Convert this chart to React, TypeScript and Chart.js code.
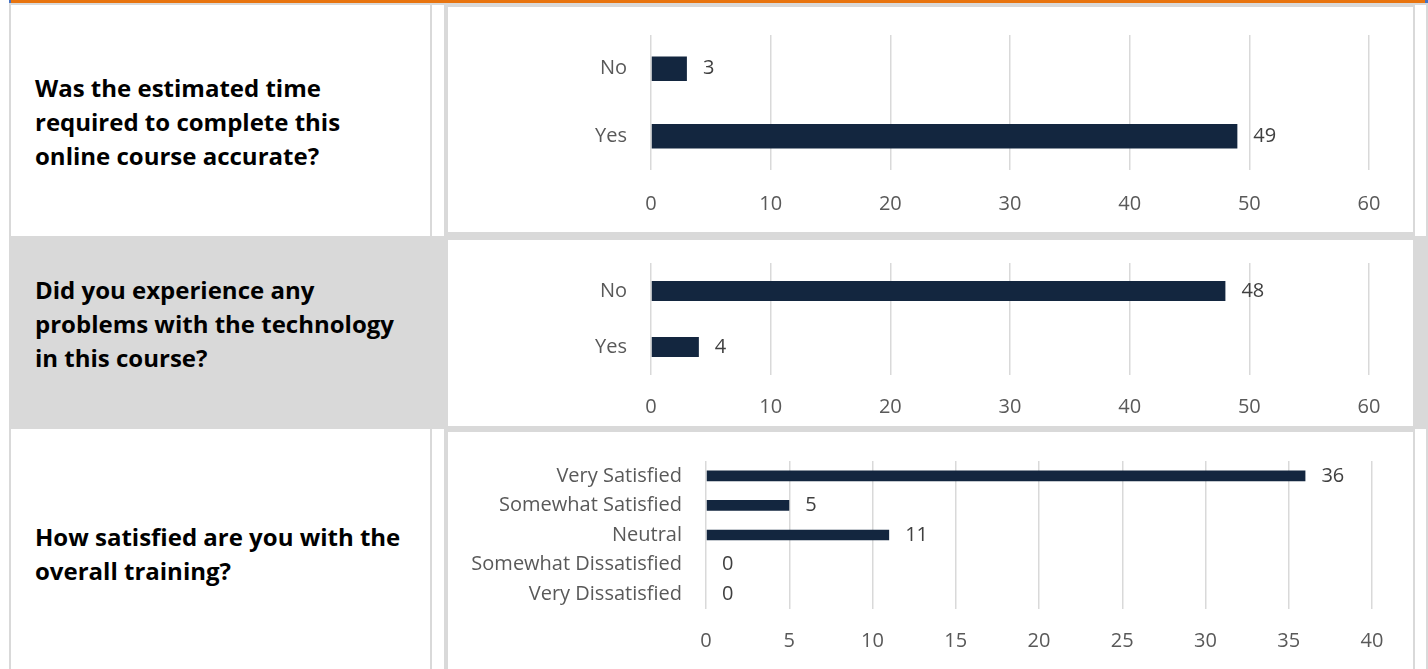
import React, { useEffect, useRef } from "react";
import { Chart, registerables } from "chart.js";

Chart.register(...registerables);

// ---- data ----
const Q1_TEXT = ["Was the estimated time", "required to complete this", "online course accurate?"];
const Q1_CATEGORIES = ["No", "Yes"];
const Q1_VALUES = [3, 49];

const Q2_TEXT = ["Did you experience any", "problems with the technology", "in this course?"];
const Q2_CATEGORIES = ["No", "Yes"];
const Q2_VALUES = [48, 4];

const Q3_TEXT = ["How satisfied are you with the", "overall training?"];
const Q3_CATEGORIES = [
  "Very Satisfied",
  "Somewhat Satisfied",
  "Neutral",
  "Somewhat Dissatisfied",
  "Very Dissatisfied",
];
const Q3_VALUES = [36, 5, 11, 0, 0];

const TICKS_60 = [0, 10, 20, 30, 40, 50, 60];
const TICKS_40 = [0, 5, 10, 15, 20, 25, 30, 35, 40];

// ---- styles ----
const FONT = "'Open Sans', 'Noto Sans', sans-serif";
const BAR_COLOR = "#13263F";
const GRID_COLOR = "#D9D9D9";
const LABEL_COLOR = "#595959";
const BORDER = "#D9D9D9";
const LABEL_SIZE = 20;

const valueLabels = {
  id: "valueLabels",
  afterDatasetsDraw(chart: any) {
    const ctx = chart.ctx;
    const meta = chart.getDatasetMeta(0);
    const data = chart.data.datasets[0].data;
    ctx.save();
    ctx.font = `${LABEL_SIZE}px ${FONT}`;
    ctx.fillStyle = "#404040";
    ctx.textAlign = "left";
    ctx.textBaseline = "middle";
    meta.data.forEach((bar: any, i: number) => {
      ctx.fillText(String(data[i]), bar.x + 16, bar.y);
    });
    ctx.restore();
  },
};

type BarProps = {
  categories: string[];
  values: number[];
  ticks: number[];
  left: number;
  top: number;
  width: number;
  height: number;
  yAxisWidth: number;
  padTop: number;
  padRight: number;
  xAxisHeight: number;
  tickPad: number;
};

function BarChart(p: BarProps) {
  const ref = useRef<HTMLCanvasElement | null>(null);
  useEffect(() => {
    if (!ref.current) return;
    const step = p.ticks[1] - p.ticks[0];
    const chart = new Chart(ref.current, {
      type: "bar",
      data: {
        labels: p.categories,
        datasets: [
          {
            data: p.values,
            backgroundColor: BAR_COLOR,
            borderWidth: 0,
            categoryPercentage: 1,
            barPercentage: 0.36,
          },
        ],
      },
      options: {
        indexAxis: "y",
        responsive: false,
        animation: false,
        devicePixelRatio: 1,
        layout: { padding: { left: 0, right: p.padRight, top: p.padTop, bottom: 0 } },
        plugins: { legend: { display: false }, tooltip: { enabled: false } },
        scales: {
          x: {
            min: p.ticks[0],
            max: p.ticks[p.ticks.length - 1],
            border: { display: false },
            grid: { color: GRID_COLOR, lineWidth: 1.5, drawTicks: false },
            ticks: {
              stepSize: step,
              color: LABEL_COLOR,
              font: { family: FONT, size: LABEL_SIZE },
              padding: p.tickPad,
              maxRotation: 0,
            },
            afterFit: (s: any) => {
              s.height = p.xAxisHeight;
              s.paddingLeft = 0;
              s.paddingRight = 0;
            },
          },
          y: {
            border: { display: false },
            grid: { display: false, drawTicks: false },
            ticks: {
              color: LABEL_COLOR,
              font: { family: FONT, size: LABEL_SIZE },
              padding: 24,
            },
            afterFit: (s: any) => {
              s.width = p.yAxisWidth;
              s.paddingTop = 0;
              s.paddingBottom = 0;
            },
          },
        },
      },
      plugins: [valueLabels],
    } as any);
    return () => chart.destroy();
  }, []);
  return (
    <canvas
      ref={ref}
      width={p.width}
      height={p.height}
      style={{ position: "absolute", left: p.left, top: p.top, width: p.width, height: p.height }}
    />
  );
}

function Question({ lines, top }: { lines: string[]; top: number }) {
  return (
    <div
      style={{
        position: "absolute",
        left: 35,
        top,
        width: 395,
        fontFamily: FONT,
        fontWeight: 700,
        fontSize: 24,
        lineHeight: "34px",
        color: "#000",
        whiteSpace: "nowrap",
      }}
    >
      {lines.map((l, i) => (
        <div key={i}>{l}</div>
      ))}
    </div>
  );
}

const box = (left: number, top: number, width: number, height: number, bg: string, extra: any = {}) => (
  <div style={{ position: "absolute", left, top, width, height, background: bg, ...extra }} />
);

export default function App() {
  return (
    <div
      style={{
        position: "absolute",
        left: 0,
        top: 0,
        width: 1428,
        height: 669,
        overflow: "hidden",
        background: "#fff",
      }}
    >
      {/* top orange rule */}
      {box(9, 0, 2, 4, "#4472C4")}
      {box(11, 0, 1414, 3, "#E8740F")}
      {box(1425, 0, 3, 4, "#4472C4")}
      {box(9, 3, 1419, 2, BORDER)}
      {/* left border */}
      {box(9, 3, 2, 666, BORDER)}
      {/* row 2 grey cells */}
      {box(11, 236, 435, 193, BORDER)}
      {box(1415, 236, 13, 193, BORDER)}
      {/* column lines rows 1 and 3 */}
      {box(430, 5, 2, 231, BORDER)}
      {box(444, 5, 2, 231, BORDER)}
      {box(430, 429, 2, 240, BORDER)}
      {box(444, 429, 2, 240, BORDER)}
      {box(1426, 5, 2, 231, BORDER)}
      {box(1426, 429, 2, 240, BORDER)}
      {/* chart panels */}
      {box(446, 5, 969, 229, "#fff", { border: `2px solid ${BORDER}`, boxSizing: "border-box" })}
      {box(444, 233, 971, 6, BORDER)}
      {box(446, 238, 969, 190, "#fff", { border: `2px solid ${BORDER}`, boxSizing: "border-box" })}
      {box(444, 427, 971, 5, BORDER)}
      {box(446, 430, 969, 260, "#fff", { border: `2px solid ${BORDER}`, boxSizing: "border-box" })}

      <Question lines={Q1_TEXT} top={71} />
      <Question lines={Q2_TEXT} top={273} />
      <Question lines={Q3_TEXT} top={520} />

      <BarChart
        categories={Q1_CATEGORIES}
        values={Q1_VALUES}
        ticks={TICKS_60}
        left={446}
        top={5}
        width={969}
        height={229}
        yAxisWidth={205}
        padTop={30}
        padRight={46}
        xAxisHeight={64}
        tickPad={22}
      />
      <BarChart
        categories={Q2_CATEGORIES}
        values={Q2_VALUES}
        ticks={TICKS_60}
        left={446}
        top={239}
        width={969}
        height={188}
        yAxisWidth={205}
        padTop={24}
        padRight={46}
        xAxisHeight={52}
        tickPad={20}
      />
      <BarChart
        categories={Q3_CATEGORIES}
        values={Q3_VALUES}
        ticks={TICKS_40}
        left={446}
        top={432}
        width={969}
        height={237}
        yAxisWidth={260}
        padTop={29}
        padRight={43}
        xAxisHeight={60}
        tickPad={20}
      />
    </div>
  );
}
